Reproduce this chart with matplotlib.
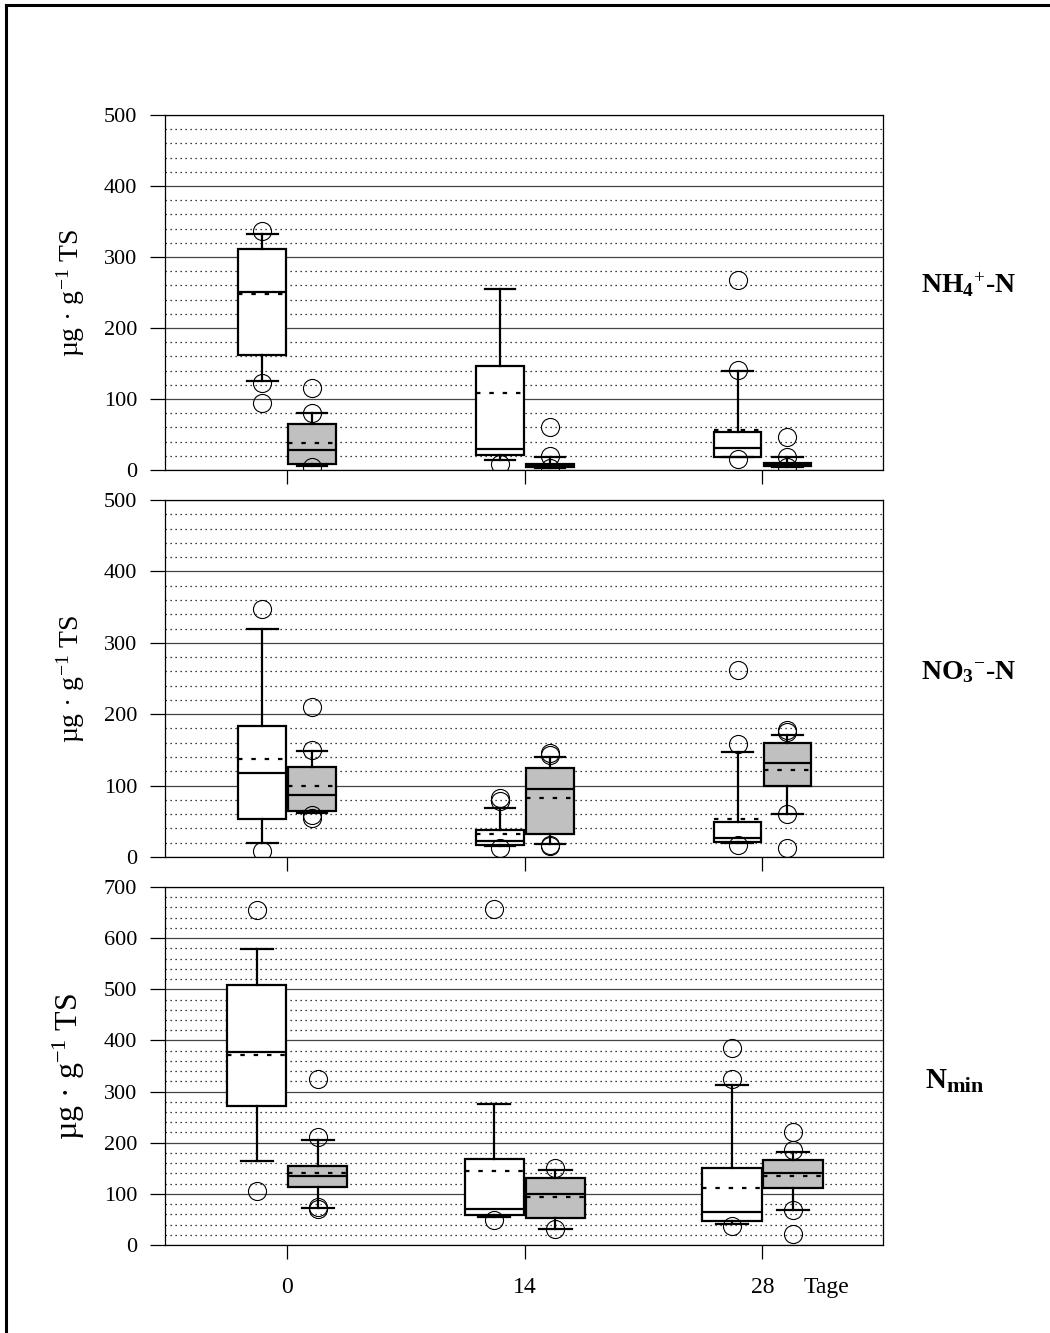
import matplotlib
matplotlib.use("Agg")
import matplotlib.pyplot as plt
from matplotlib.lines import Line2D
from matplotlib.ticker import MultipleLocator
from matplotlib.transforms import blended_transform_factory

plt.rcParams["font.family"] = ["Liberation Serif", "DejaVu Serif"]
plt.rcParams["mathtext.fontset"] = "custom"
plt.rcParams["mathtext.rm"] = "Liberation Serif"
plt.rcParams["mathtext.it"] = "Liberation Serif:italic"
plt.rcParams["mathtext.bf"] = "Liberation Serif:bold"

days = [0, 14, 28]
day_labels = ["0", "14", "28"]

# box values per day: [whisker low, q1, median, q3, whisker high]
nh4_white = [[125, 162, 250, 311, 332], [14, 21, 29, 147, 255], [18, 19, 31, 54, 140]]
nh4_white_mean = [248, 108, 57]
nh4_white_out = [[336, 123, 94], [8], [268, 141, 16]]
nh4_grey = [[6, 9, 28, 65, 80], [3, 4, 6, 9, 18], [4, 5, 7, 10, 18]]
nh4_grey_mean = [38, 7, 8]
nh4_grey_out = [[115, 80, 4], [60, 20, 3], [47, 19, 4]]

no3_white = [[19, 53, 117, 184, 320], [15, 17, 22, 38, 69], [20, 21, 26, 49, 147]]
no3_white_mean = [137, 32, 53]
no3_white_out = [[347, 9], [83, 79, 12], [262, 158, 17]]
no3_grey = [[62, 65, 87, 126, 148], [18, 32, 95, 124, 140], [60, 100, 131, 159, 171]]
no3_grey_mean = [99, 83, 122]
no3_grey_out = [[210, 150, 59, 54], [146, 143, 17, 15], [178, 175, 60, 13]]

nmin_white = [[165, 271, 377, 509, 579], [55, 59, 71, 168, 275], [42, 47, 64, 150, 312]]
nmin_white_mean = [372, 144, 112]
nmin_white_out = [[656, 105], [657, 49], [386, 325, 37]]
nmin_grey = [[73, 113, 134, 155, 205], [32, 53, 100, 131, 147], [68, 112, 140, 166, 182]]
nmin_grey_mean = [140, 93, 134]
nmin_grey_out = [[325, 212, 75, 71], [150, 32], [220, 186, 68, 22]]

panels = [
    ("NH$_\\mathbf{4}$$^{+}$-N", 500, nh4_white, nh4_white_mean, nh4_white_out,
     nh4_grey, nh4_grey_mean, nh4_grey_out),
    ("NO$_\\mathbf{3}$$^{-}$-N", 500, no3_white, no3_white_mean, no3_white_out,
     no3_grey, no3_grey_mean, no3_grey_out),
    (None, 700, nmin_white, nmin_white_mean, nmin_white_out,
     nmin_grey, nmin_grey_mean, nmin_grey_out),
]


def make_stats(boxes, means, outs):
    stats = []
    for b, m, o in zip(boxes, means, outs):
        stats.append(dict(whislo=b[0], q1=b[1], med=b[2], q3=b[3], whishi=b[4],
                          mean=m, fliers=o))
    return stats


fig = plt.figure(figsize=(10.5, 13.33), dpi=100)

# axes boxes in pixels: (top, bottom)
rows = [(115, 470), (500, 857), (887, 1245)]
label_y = [285, 672, 1080]
W, H = 1050, 1333

for i, (name, ymax, w, wm, wo, g, gm, go) in enumerate(panels):
    top, bot = rows[i]
    ax = fig.add_axes([165 / W, 1 - bot / H, (883 - 165) / W, (bot - top) / H])
    if i == 2:
        off, bw, cw = 1.8, 3.5, 1.9
    else:
        off, bw, cw = 1.47, 2.8, 1.8

    for boxes, means, outs, pos_off, fc in [(w, wm, wo, -off, "white"),
                                             (g, gm, go, off, "#c0c0c0")]:
        ax.bxp(make_stats(boxes, means, outs),
               positions=[d + pos_off for d in days], widths=bw,
               capwidths=cw, patch_artist=True, showmeans=True, meanline=True,
               manage_ticks=False,
               boxprops=dict(facecolor=fc, edgecolor="black", linewidth=1.6),
               medianprops=dict(color="black", linewidth=1.6),
               meanprops=dict(color="black", linestyle=(0, (2, 4)), linewidth=1.6),
               whiskerprops=dict(color="black", linewidth=1.6),
               capprops=dict(color="black", linewidth=1.6),
               flierprops=dict(marker="o", markerfacecolor="none",
                               markeredgecolor="black", markersize=13,
                               markeredgewidth=0.8))

    ax.set_xlim(-7.2, 35.1)
    ax.set_ylim(0, ymax)
    ax.yaxis.set_major_locator(MultipleLocator(100))
    ax.yaxis.set_minor_locator(MultipleLocator(20))
    ax.set_axisbelow(True)
    ax.grid(True, which="major", axis="y", color="#444444", linewidth=0.9)
    ax.grid(True, which="minor", axis="y", color="black",
            linestyle=(0, (1, 3)), linewidth=0.9)
    ax.tick_params(axis="y", which="major", direction="out", length=11,
                   width=0.9, pad=9, labelsize=16)
    ax.tick_params(axis="y", which="minor", length=0)
    ax.set_xticks(days)
    ax.tick_params(axis="x", direction="out", length=10, width=0.9,
                   pad=13, labelsize=17)
    if i == 2:
        ax.set_xticklabels(day_labels)
        trans = blended_transform_factory(ax.transData, ax.transAxes)
        ax.text(30.4, -(1287 - 1245) / (1245 - 887), "Tage", fontsize=17,
                va="center", ha="left", transform=trans)
    else:
        ax.set_xticklabels([])
    for s in ax.spines.values():
        s.set_linewidth(0.9)

    lab_size = 23 if i == 2 else 20
    ax.set_ylabel("µg · g$^{-1}$ TS", fontsize=lab_size)
    ax.yaxis.set_label_coords(-(165 - 87) / (883 - 165), 0.5)

    if name is not None:
        fig.text(968 / W, 1 - label_y[i] / H, name, fontsize=20,
                 fontweight="bold", ha="center", va="center")
    else:
        fig.text(926 / W, 1 - label_y[i] / H, "N", fontsize=21,
                 fontweight="bold", ha="left", va="center")
        fig.text(946 / W, 1 - (label_y[i] + 7) / H, "min", fontsize=16,
                 fontweight="bold", ha="left", va="center")

# outer frame (top and left edge)
fig.add_artist(Line2D([6 / W, 6 / W], [0, 1 - 5 / H], color="black", linewidth=2.2,
                      transform=fig.transFigure))
fig.add_artist(Line2D([6 / W, 1], [1 - 5 / H, 1 - 5 / H], color="black",
                      linewidth=2.2, transform=fig.transFigure))

fig.savefig("out.png", dpi=100)
